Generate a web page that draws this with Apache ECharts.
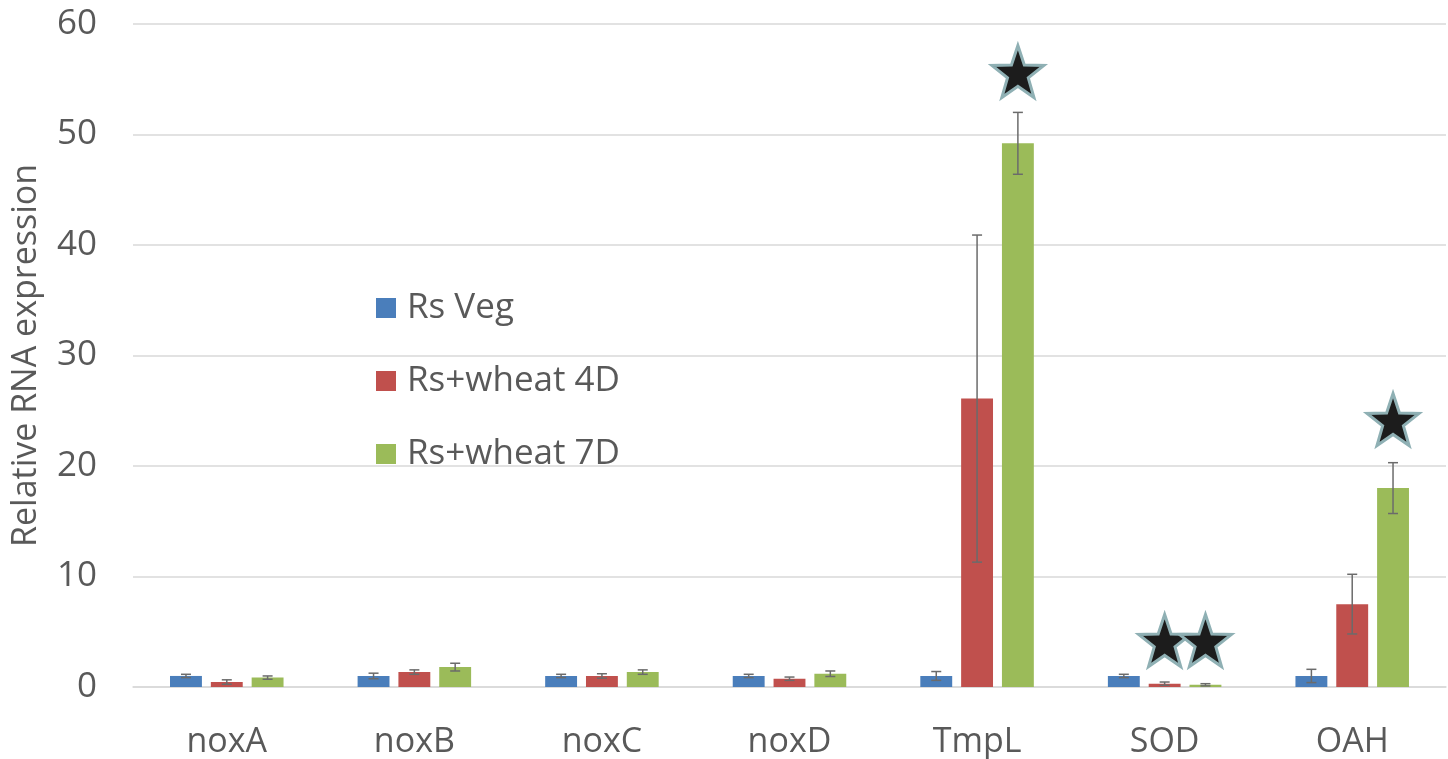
<!DOCTYPE html>
<html>
<head>
<meta charset="utf-8">
<script src="https://cdn.jsdelivr.net/npm/echarts@6/dist/echarts.min.js"></script>
<style>
  html, body { margin: 0; padding: 0; background: #fff; }
  #chart { width: 1448px; height: 759px; }
</style>
</head>
<body>
<div id="chart"></div>
<script>
// genes
const genes = ['noxA', 'noxB', 'noxC', 'noxD', 'TmpL', 'SOD', 'OAH'];
const seriesNames = ['Rs Veg', 'Rs+wheat 4D', 'Rs+wheat 7D'];

// mean relative expression
const rsVeg   = [1.0, 1.0, 1.0, 1.0, 1.0, 1.0, 1.0];
const wheat4D = [0.45, 1.35, 1.0, 0.75, 26.1, 0.3, 7.5];
const wheat7D = [0.85, 1.8, 1.35, 1.2, 49.2, 0.2, 18.0];

// error (+/-)
const rsVegErr   = [0.15, 0.25, 0.15, 0.15, 0.4, 0.15, 0.6];
const wheat4DErr = [0.2, 0.2, 0.2, 0.15, 14.8, 0.15, 2.7];
const wheat7DErr = [0.15, 0.35, 0.2, 0.25, 2.8, 0.1, 2.3];

// significance stars [gene, y]
const stars4D = [['SOD', 4.2]];
const stars7D = [['TmpL', 55.7], ['SOD', 4.2], ['OAH', 24.2]];

const colors = ['#4a7ebb', '#c0504d', '#9bbb59'];
const BAR_W = 0.17;   // fraction of category band
const GAP = 0.28;     // fraction of bar width

const starPath = 'path://M0,-10 L2.35,-3.24 L9.51,-3.09 L3.8,1.24 L5.88,8.09 L0,4.2 L-5.88,8.09 L-3.8,1.24 L-9.51,-3.09 L-2.35,-3.24 Z';
const fontFam = "'Open Sans', 'Noto Sans', sans-serif";

function errSeries(vals, errs, idx) {
  return {
    type: 'custom',
    name: seriesNames[idx] + ' err',
    z: 5,
    silent: true,
    data: vals.map((v, i) => [i, v - errs[i], v + errs[i]]),
    renderItem: function (params, api) {
      const band = api.size([1, 0])[0];
      const bw = band * BAR_W;
      const gap = bw * GAP;
      const total = 3 * bw + 2 * gap;
      const off = -total / 2 + idx * (bw + gap) + bw / 2;
      const lo = api.coord([api.value(0), api.value(1)]);
      const hi = api.coord([api.value(0), api.value(2)]);
      const x = lo[0] + off;
      const cap = 5;
      const st = { stroke: '#6b6b6b', lineWidth: 1.5 };
      return {
        type: 'group',
        children: [
          { type: 'line', shape: { x1: x, y1: lo[1], x2: x, y2: hi[1] }, style: st },
          { type: 'line', shape: { x1: x - cap, y1: lo[1], x2: x + cap, y2: lo[1] }, style: st },
          { type: 'line', shape: { x1: x - cap, y1: hi[1], x2: x + cap, y2: hi[1] }, style: st }
        ]
      };
    }
  };
}

function starMarks(list) {
  return {
    symbol: starPath,
    symbolSize: [52, 52],
    silent: true,
    label: { show: false },
    itemStyle: { color: '#1c1c1c', borderColor: '#8fb0b4', borderWidth: 3 },
    data: list.map(s => ({ coord: [s[0], s[1]] }))
  };
}

const chart = echarts.init(document.getElementById('chart'));
chart.setOption({
  animation: false,
  color: colors,
  textStyle: { fontFamily: fontFam },
  grid: { left: 133, right: 2, top: 24, bottom: 72, containLabel: false },
  legend: {
    orient: 'vertical',
    left: 371,
    top: 285,
    itemWidth: 20,
    itemHeight: 20,
    itemGap: 37,
    icon: 'rect',
    textStyle: { fontSize: 35, lineHeight: 36, color: '#595959', fontFamily: fontFam, padding: [0, 0, 0, 6] },
    data: seriesNames
  },
  xAxis: {
    type: 'category',
    data: genes,
    axisLine: { lineStyle: { color: '#d9d9d9', width: 1.5 } },
    axisTick: { show: false },
    axisLabel: { fontSize: 34, color: '#595959', margin: 38 }
  },
  yAxis: {
    type: 'value',
    min: 0,
    max: 60,
    interval: 10,
    name: 'Relative RNA expression',
    nameLocation: 'middle',
    nameGap: 90,
    nameTextStyle: { fontSize: 34, color: '#595959' },
    axisLine: { show: false },
    axisTick: { show: false },
    splitLine: { lineStyle: { color: '#d9d9d9', width: 1.5 } },
    axisLabel: { fontSize: 35, color: '#595959', margin: 36 }
  },
  series: [
    { type: 'bar', name: seriesNames[0], data: rsVeg, barWidth: (BAR_W * 100) + '%', barGap: (GAP * 100) + '%' },
    { type: 'bar', name: seriesNames[1], data: wheat4D, barWidth: (BAR_W * 100) + '%', barGap: (GAP * 100) + '%', markPoint: starMarks(stars4D) },
    { type: 'bar', name: seriesNames[2], data: wheat7D, barWidth: (BAR_W * 100) + '%', barGap: (GAP * 100) + '%', markPoint: starMarks(stars7D) },
    errSeries(rsVeg, rsVegErr, 0),
    errSeries(wheat4D, wheat4DErr, 1),
    errSeries(wheat7D, wheat7DErr, 2)
  ]
});
</script>
</body>
</html>
